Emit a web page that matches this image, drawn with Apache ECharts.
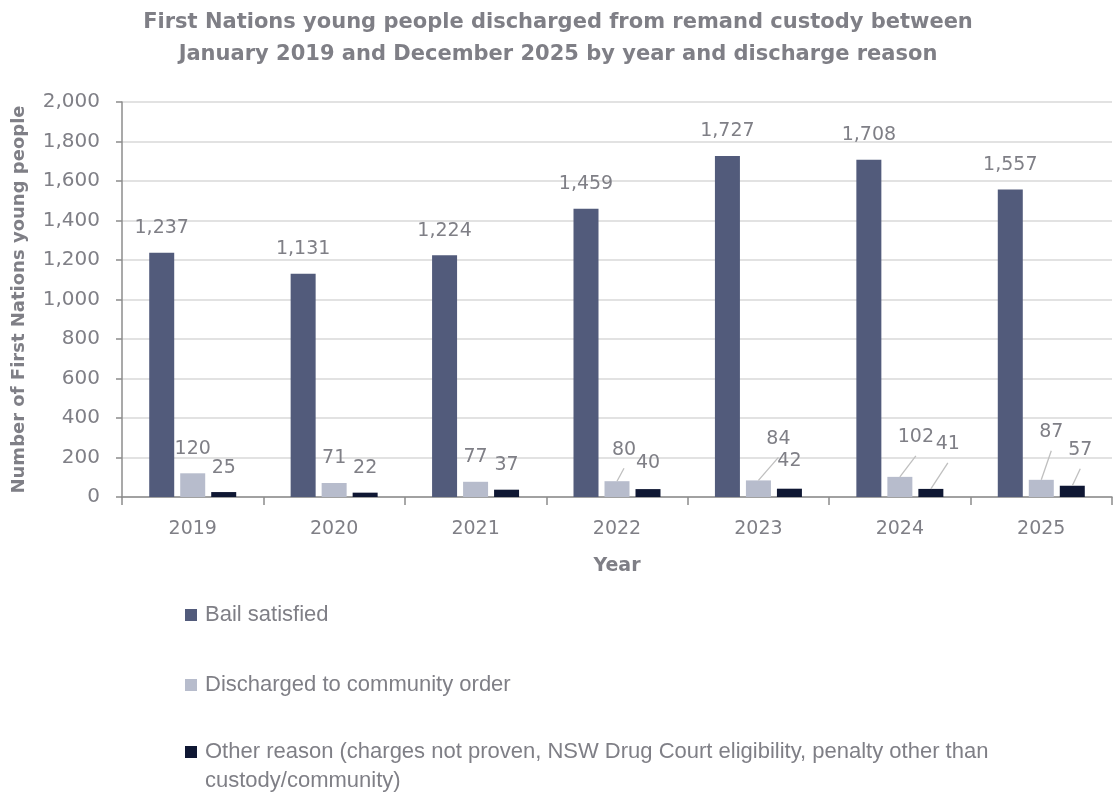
<!DOCTYPE html>
<html><head><meta charset="utf-8">
<script src="https://cdn.jsdelivr.net/npm/echarts@6/dist/echarts.min.js"></script>
<style>html,body{margin:0;padding:0;background:#fff}#c{width:1116px;height:793px}</style>
</head><body><div id="c"></div>
<script>
var years = ['2019','2020','2021','2022','2023','2024','2025'];
var bailSatisfied = [1237, 1131, 1224, 1459, 1727, 1708, 1557];
var communityOrder = [120, 71, 77, 80, 84, 102, 87];
var otherReason = [25, 22, 37, 40, 42, 41, 57];
var seriesNames = ['Bail satisfied', 'Discharged to community order', 'Other reason (charges not proven, NSW Drug Court eligibility, penalty other than custody/community)'];
var yTicks = [0, 200, 400, 600, 800, 1000, 1200, 1400, 1600, 1800, 2000];

// label nudges (pixels) for crowded small-bar labels; leader line shown when nudged
var communityNudge = [[0,0],[0,0],[0,0],[7,-7],[20,-17],[16,-15],[10,-23]];
var otherNudge = [[0,0],[0,0],[0,0],[0,-2],[0,-3],[17,-20],[8,-11]];
var communityLeader = [false,false,false,true,true,true,true];
var otherLeader = [false,false,false,false,false,true,true];

var txt = '#7f7f86';
var NUM = 'DejaVu Sans';
var LEG = 'Liberation Sans';
var BAR_W = 25, BAR_GAP = 0.24, LABEL_DIST = 15;
function fmt(v){ return v.toLocaleString('en-US'); }

var chart = echarts.init(document.getElementById('c'), null, {renderer:'canvas'});
function layoutFn(nudge){
  return function(p){ var n = nudge[p.dataIndex]; return {dx:n[0], dy:n[1]}; };
}
// leader-line data: [categoryIndex, value, barSlot(-1,0,1), dx, dy]
var leaderData = [];
communityOrder.forEach(function(v,i){ if (communityLeader[i]) leaderData.push([i, v, 0, communityNudge[i][0], communityNudge[i][1]]); });
otherReason.forEach(function(v,i){ if (otherLeader[i]) leaderData.push([i, v, 1, otherNudge[i][0], otherNudge[i][1]]); });

function renderLeader(params, api){
  var pt = api.coord([api.value(0), api.value(1)]);
  var slot = api.value(2);
  var x0 = pt[0] + slot * BAR_W * (1 + BAR_GAP);
  var y0 = pt[1];
  var x1 = x0 + api.value(3);
  var y1 = y0 - LABEL_DIST + api.value(4) + 9;
  return {type:'line', shape:{x1:x0, y1:y0, x2:x1, y2:y1}, style:{stroke:'#bfbfbf', lineWidth:1.3}, z2:10};
}

var labelBase = {show:true, position:'top', distance:LABEL_DIST, color:txt, fontSize:19, fontFamily:NUM,
  formatter:function(p){return fmt(p.value);}};
var option = {
  animation:false,
  title:{text:'First Nations young people discharged from remand custody between\nJanuary 2019 and December 2025 by year and discharge reason',
    left:'center', top:2, textStyle:{color:txt, fontSize:21, fontWeight:'bold', fontFamily:NUM, lineHeight:32}},
  grid:{left:122, right:4, top:102, bottom:296, containLabel:false},
  legend:[
    {data:[seriesNames[0]], orient:'vertical', left:180, top:599, itemWidth:12, itemHeight:12, icon:'rect',
     textStyle:{color:txt, fontSize:22, fontFamily:LEG, padding:[0,0,0,3]}},
    {data:[seriesNames[1]], orient:'vertical', left:180, top:669, itemWidth:12, itemHeight:12, icon:'rect',
     textStyle:{color:txt, fontSize:22, fontFamily:LEG, padding:[0,0,0,3]}},
    {data:[seriesNames[2]], orient:'vertical', left:180, top:736, itemWidth:12, itemHeight:12, icon:'rect',
     formatter:function(n){return 'Other reason (charges not proven, NSW Drug Court eligibility, penalty other than';},
     textStyle:{color:txt, fontSize:22, fontFamily:LEG, padding:[0,0,0,3]}}
  ],
  graphic:[{type:'text', left:205, top:770, style:{text:'custody/community)', fill:txt, font:'22px "Liberation Sans"'}}],
  xAxis:{type:'category', data:years, name:'Year', nameLocation:'middle', nameGap:60,
    nameTextStyle:{color:txt, fontSize:19, fontWeight:'bold', fontFamily:NUM},
    axisLine:{lineStyle:{color:'#8c8c8c', width:1.5}},
    axisTick:{show:true, length:8, lineStyle:{color:'#8c8c8c', width:1.5}},
    axisLabel:{color:txt, fontSize:19, fontFamily:NUM, margin:23}},
  yAxis:{type:'value', min:0, max:2000, interval:200, name:'Number of First Nations young people', nameLocation:'middle', nameGap:94,
    nameTextStyle:{color:txt, fontSize:18, fontWeight:'bold', fontFamily:NUM},
    axisLine:{show:true, lineStyle:{color:'#8c8c8c', width:1.5}},
    axisTick:{show:true, length:6, lineStyle:{color:'#8c8c8c', width:1.5}},
    splitLine:{lineStyle:{color:'#d9d9d9', width:1.5}},
    axisLabel:{color:txt, fontSize:20, fontFamily:NUM, margin:22, formatter:function(v){ return yTicks.indexOf(v)>=0 ? fmt(v) : ''; }}},
  series:[
    {name:seriesNames[0], type:'bar', data:bailSatisfied, barWidth:BAR_W, barGap:(BAR_GAP*100)+'%', itemStyle:{color:'#525b7b'}, label:labelBase},
    {name:seriesNames[1], type:'bar', data:communityOrder, barWidth:BAR_W, barGap:(BAR_GAP*100)+'%', itemStyle:{color:'#b7bccc'}, label:labelBase,
     labelLayout:layoutFn(communityNudge)},
    {name:seriesNames[2], type:'bar', data:otherReason, barWidth:BAR_W, barGap:(BAR_GAP*100)+'%', itemStyle:{color:'#0f1733'}, label:labelBase,
     labelLayout:layoutFn(otherNudge)},
    {name:'leaders', type:'custom', data:leaderData, renderItem:renderLeader, silent:true, z:5, tooltip:{show:false}}
  ]
};
chart.setOption(option);
</script></body></html>
